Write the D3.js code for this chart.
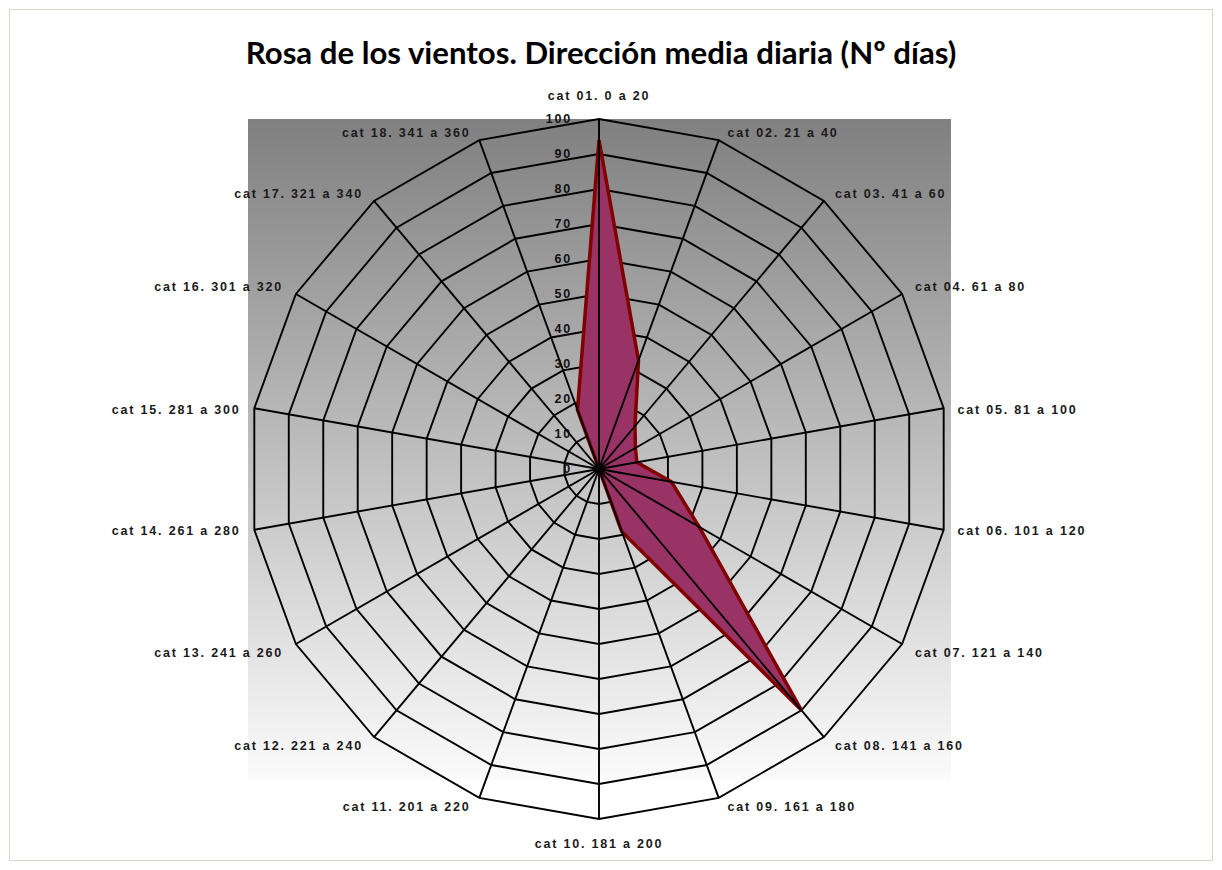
<!DOCTYPE html>
<html>
<head>
<meta charset="utf-8">
<script src="https://cdn.jsdelivr.net/npm/d3@7"></script>
<style>
  html, body { margin: 0; padding: 0; background: #fff; }
  svg { display: block; }
</style>
</head>
<body>
<svg id="chart" width="1222" height="870"></svg>
<script>
// ---- Data ----
const title = "Rosa de los vientos. Dirección media diaria (Nº días)";
const categories = [
  "cat 01. 0 a 20", "cat 02. 21 a 40", "cat 03. 41 a 60", "cat 04. 61 a 80",
  "cat 05. 81 a 100", "cat 06. 101 a 120", "cat 07. 121 a 140", "cat 08. 141 a 160",
  "cat 09. 161 a 180", "cat 10. 181 a 200", "cat 11. 201 a 220", "cat 12. 221 a 240",
  "cat 13. 241 a 260", "cat 14. 261 a 280", "cat 15. 281 a 300", "cat 16. 301 a 320",
  "cat 17. 321 a 340", "cat 18. 341 a 360"
];
const days = [94, 33, 16, 12, 11, 21, 33, 90, 19, 0, 0, 0, 0, 0, 0, 0, 0, 18];
const tickValues = [0, 10, 20, 30, 40, 50, 60, 70, 80, 90, 100];
const tickLabels = ["0", "10", "20", "30", "40", "50", "60", "70", "80", "90", "100"];

// ---- Layout ----
const svg = d3.select("#chart");
const cx = 599, cy = 469, R = 350;
const plot = { x: 248, y: 119, w: 703, h: 661 };

const r = d3.scaleLinear().domain([0, 100]).range([0, R]);
const angle = d3.scaleLinear().domain([0, categories.length]).range([0, 2 * Math.PI]);

// outer chart border
svg.append("rect")
  .attr("x", 9.5).attr("y", 9.5).attr("width", 1203).attr("height", 851)
  .attr("fill", "#fff").attr("stroke", "#d8d8c8").attr("stroke-width", 1);

// plot area gradient
const defs = svg.append("defs");
const grad = defs.append("linearGradient").attr("id", "bg")
  .attr("x1", 0).attr("y1", 0).attr("x2", 0).attr("y2", 1);
grad.append("stop").attr("offset", "0%").attr("stop-color", "#808080");
grad.append("stop").attr("offset", "100%").attr("stop-color", "#fbfbfb");
svg.append("rect")
  .attr("x", plot.x).attr("y", plot.y).attr("width", plot.w).attr("height", plot.h)
  .attr("fill", "url(#bg)");

// title
const titleText = svg.append("text")
  .attr("x", 601).attr("y", 64)
  .attr("text-anchor", "middle")
  .attr("font-family", "Lato, 'Open Sans', sans-serif")
  .attr("font-weight", "bold")
  .attr("font-size", 28)
  .attr("fill", "#000")
  .text(title);
const tw = titleText.node().getComputedTextLength();
titleText.attr("font-size", 28 * 711 / tw);

const g = svg.append("g").attr("transform", `translate(${cx},${cy})`);

const idx = d3.range(categories.length);
const ringLine = d3.lineRadial()
  .angle(i => angle(i))
  .curve(d3.curveLinearClosed);

// rings
g.selectAll("path.ring")
  .data(tickValues.filter(v => v > 0))
  .join("path")
  .attr("class", "ring")
  .attr("d", v => ringLine.radius(() => r(v))(idx))
  .attr("fill", "none")
  .attr("stroke", "#000")
  .attr("stroke-width", 1.9);

// data polygon
const dataLine = d3.lineRadial()
  .angle((d, i) => angle(i))
  .radius(d => r(d))
  .curve(d3.curveLinearClosed);
g.append("path")
  .attr("d", dataLine(days))
  .attr("fill", "#993366")
  .attr("stroke", "#800000")
  .attr("stroke-width", 3.5)
  .attr("stroke-linejoin", "miter");

// spokes
g.selectAll("line.spoke")
  .data(idx)
  .join("line")
  .attr("class", "spoke")
  .attr("x1", 0).attr("y1", 0)
  .attr("x2", i => r(100) * Math.sin(angle(i)))
  .attr("y2", i => -r(100) * Math.cos(angle(i)))
  .attr("stroke", "#000")
  .attr("stroke-width", 1.9);

// tick labels
g.selectAll("text.tick")
  .data(tickValues)
  .join("text")
  .attr("class", "tick")
  .attr("x", -27)
  .attr("y", v => -r(v))
  .attr("dy", "0.35em")
  .attr("text-anchor", "end")
  .attr("font-family", "'Liberation Sans', Arial, sans-serif")
  .attr("font-weight", "bold")
  .attr("font-size", 12.5)
  .attr("letter-spacing", "1.8px")
  .attr("fill", "#111")
  .text((v, i) => tickLabels[i]);

// category labels
g.selectAll("text.cat")
  .data(idx)
  .join("text")
  .attr("class", "cat")
  .each(function (i) {
    const a = angle(i);
    const s = Math.sin(a), c = Math.cos(a);
    let x = r(100) * s, y = -r(100) * c;
    let anchor = "middle";
    if (Math.abs(s) < 0.01) {
      y += c > 0 ? -23 : 25;
    } else {
      const sign = s > 0 ? 1 : -1;
      x += sign * (6 + 8 * Math.abs(s));
      anchor = s > 0 ? "start" : "end";
      y += c > 0.3 ? -7 : (c < -0.3 ? 9 : 1);
    }
    d3.select(this)
      .attr("x", x).attr("y", y)
      .attr("dy", "0.35em")
      .attr("text-anchor", anchor);
  })
  .attr("font-family", "'Liberation Sans', Arial, sans-serif")
  .attr("font-weight", "bold")
  .attr("font-size", 12.5)
  .attr("letter-spacing", "1.8px")
  .attr("fill", "#1a1a1a")
  .text(i => categories[i]);
</script>
</body>
</html>
